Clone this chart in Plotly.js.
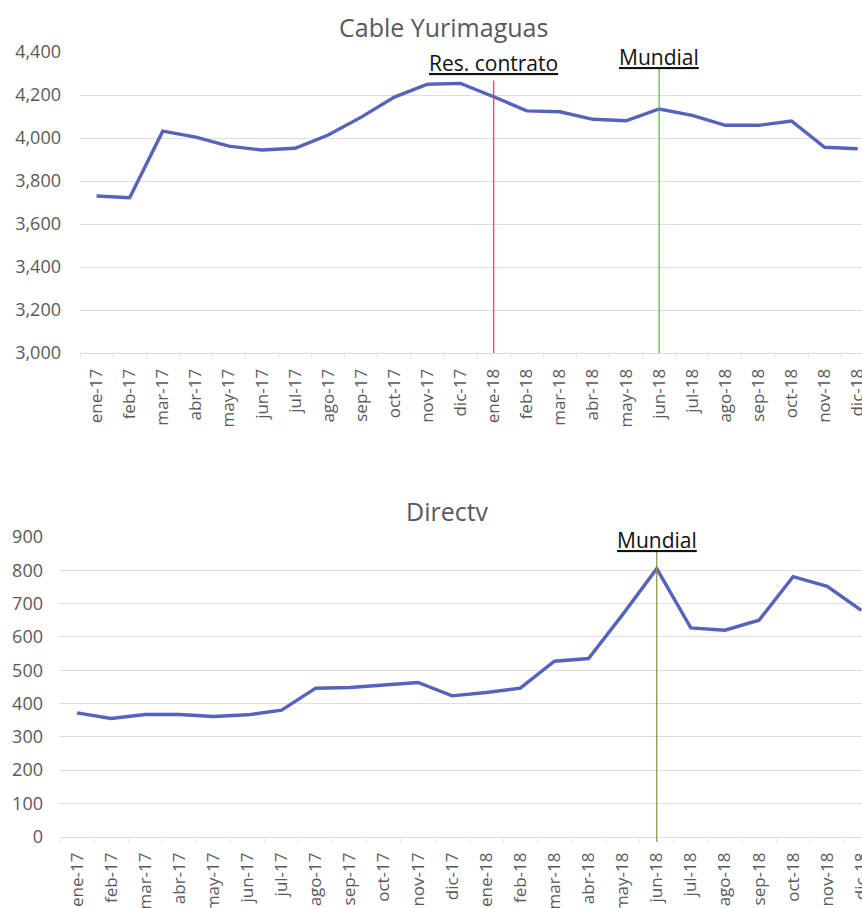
<!DOCTYPE html>
<html>
<head>
<meta charset="utf-8">
<script src="https://cdn.plot.ly/plotly-3.0.1.min.js"></script>
<style>
html,body{margin:0;padding:0;background:#fff;overflow:hidden;}
#chart{width:862px;height:908px;}
</style>
</head>
<body>
<div id="chart"></div>
<script>
// ---- data ----
const months = ['ene-17','feb-17','mar-17','abr-17','may-17','jun-17','jul-17','ago-17','sep-17','oct-17','nov-17','dic-17',
                'ene-18','feb-18','mar-18','abr-18','may-18','jun-18','jul-18','ago-18','sep-18','oct-18','nov-18','dic-18'];
const cableValues = [3730,3722,4032,4004,3962,3944,3952,4014,4097,4190,4250,4254,
                     4192,4126,4122,4087,4080,4135,4105,4059,4059,4079,3957,3950];
const directvValues = [372,355,367,367,361,366,380,446,448,456,463,423,
                       433,446,527,535,667,805,627,620,650,781,752,680];
const cableTitle = 'Cable Yurimaguas';
const directvTitle = 'Directv';
const cableEvents = [{label:'Res. contrato', month:'ene-18'}, {label:'Mundial', month:'jun-18'}];
const directvEvents = [{label:'Mundial', month:'jun-18'}];

// ---- styling ----
const W = 862, H = 908;
const FONT = '"Open Sans", "Noto Sans", Lato, sans-serif';
const lineColor = '#5663BC';
const gridColor = '#dedede';
const tickColor = '#595959';

const traces = [
  {x: months, y: cableValues, xaxis:'x', yaxis:'y', type:'scatter', mode:'lines',
   line:{color:lineColor, width:3.4}, hoverinfo:'x+y'},
  {x: months, y: directvValues, xaxis:'x2', yaxis:'y2', type:'scatter', mode:'lines',
   line:{color:lineColor, width:3.4}, hoverinfo:'x+y'}
];

function xAxis(domainLeft, rangeEnd, anchor){
  return {
    type:'category', categoryorder:'array', categoryarray: months,
    domain:[domainLeft/W, 1], range:[-0.5, rangeEnd], anchor: anchor,
    tickangle:-90, tickfont:{family:FONT, size:17, color:tickColor},
    showgrid:false, showline:true, linecolor:gridColor, linewidth:1,
    ticks:'outside', tickson:'boundaries', ticklen:5, tickcolor:'#e8e8e8',
    ticklabelstandoff:8, zeroline:false, fixedrange:true
  };
}

const layout = {
  width:W, height:H, margin:{l:0,r:0,t:0,b:0},
  paper_bgcolor:'#fff', plot_bgcolor:'#fff', showlegend:false,
  font:{family:FONT, color:tickColor},
  xaxis: xAxis(80, 23.13, 'y'),
  yaxis: {domain:[1-353/H, 1-52/H], range:[3000,4400], dtick:200, tickformat:',d',
          tickfont:{family:FONT, size:18, color:tickColor}, gridcolor:gridColor, gridwidth:1,
          zeroline:false, showline:false, ticklabelstandoff:18, anchor:'x', fixedrange:true},
  xaxis2: xAxis(60, 23.02, 'y2'),
  yaxis2: {domain:[1-836.7/H, 1-537/H], range:[0,900], dtick:100,
          tickfont:{family:FONT, size:18, color:tickColor}, gridcolor:gridColor, gridwidth:1,
          zeroline:true, zerolinecolor:gridColor, zerolinewidth:1, showline:false, ticklabelstandoff:16,
          anchor:'x2', fixedrange:true},
  shapes:[], annotations:[]
};

// titles
layout.annotations.push({text:cableTitle, xref:'paper', yref:'paper', x:444/W, y:1-27/H,
  xanchor:'center', yanchor:'middle', showarrow:false, font:{family:FONT, size:25, color:'#595959'}});
layout.annotations.push({text:directvTitle, xref:'paper', yref:'paper', x:447/W, y:1-511/H,
  xanchor:'center', yanchor:'middle', showarrow:false, font:{family:FONT, size:25, color:'#595959'}});

// event markers
const evStyle = {
  'Res. contrato': {color:'#EE4B3B', top:0.905, labelY:0.962},
  'Mundial': {color:'#5DB84F', top:0.95, labelY:0.985}
};
cableEvents.forEach(ev => {
  const i = months.indexOf(ev.month);
  const s = evStyle[ev.label];
  layout.shapes.push({type:'line', xref:'x', yref:'y domain', x0:i, x1:i, y0:0, y1:s.top,
    line:{color:s.color, width:1.3}});
  layout.annotations.push({text:ev.label, xref:'x', yref:'y domain', x:i, y:s.labelY,
    xanchor:'center', yanchor:'middle', showarrow:false,
    font:{family:FONT, size:21, color:'#111', lineposition:'under'}});
});
directvEvents.forEach(ev => {
  const i = months.indexOf(ev.month);
  layout.shapes.push({type:'line', xref:'x2', yref:'y2 domain', x0:i, x1:i, y0:-0.018, y1:0.95,
    line:{color:'#8C9A45', width:1.3}});
  layout.annotations.push({text:ev.label, xref:'x2', yref:'y2 domain', x:i, y:0.99,
    xanchor:'center', yanchor:'middle', showarrow:false,
    font:{family:FONT, size:21, color:'#111', lineposition:'under'}});
});

Plotly.newPlot('chart', traces, layout, {staticPlot:true, displayModeBar:false});
</script>
</body>
</html>
